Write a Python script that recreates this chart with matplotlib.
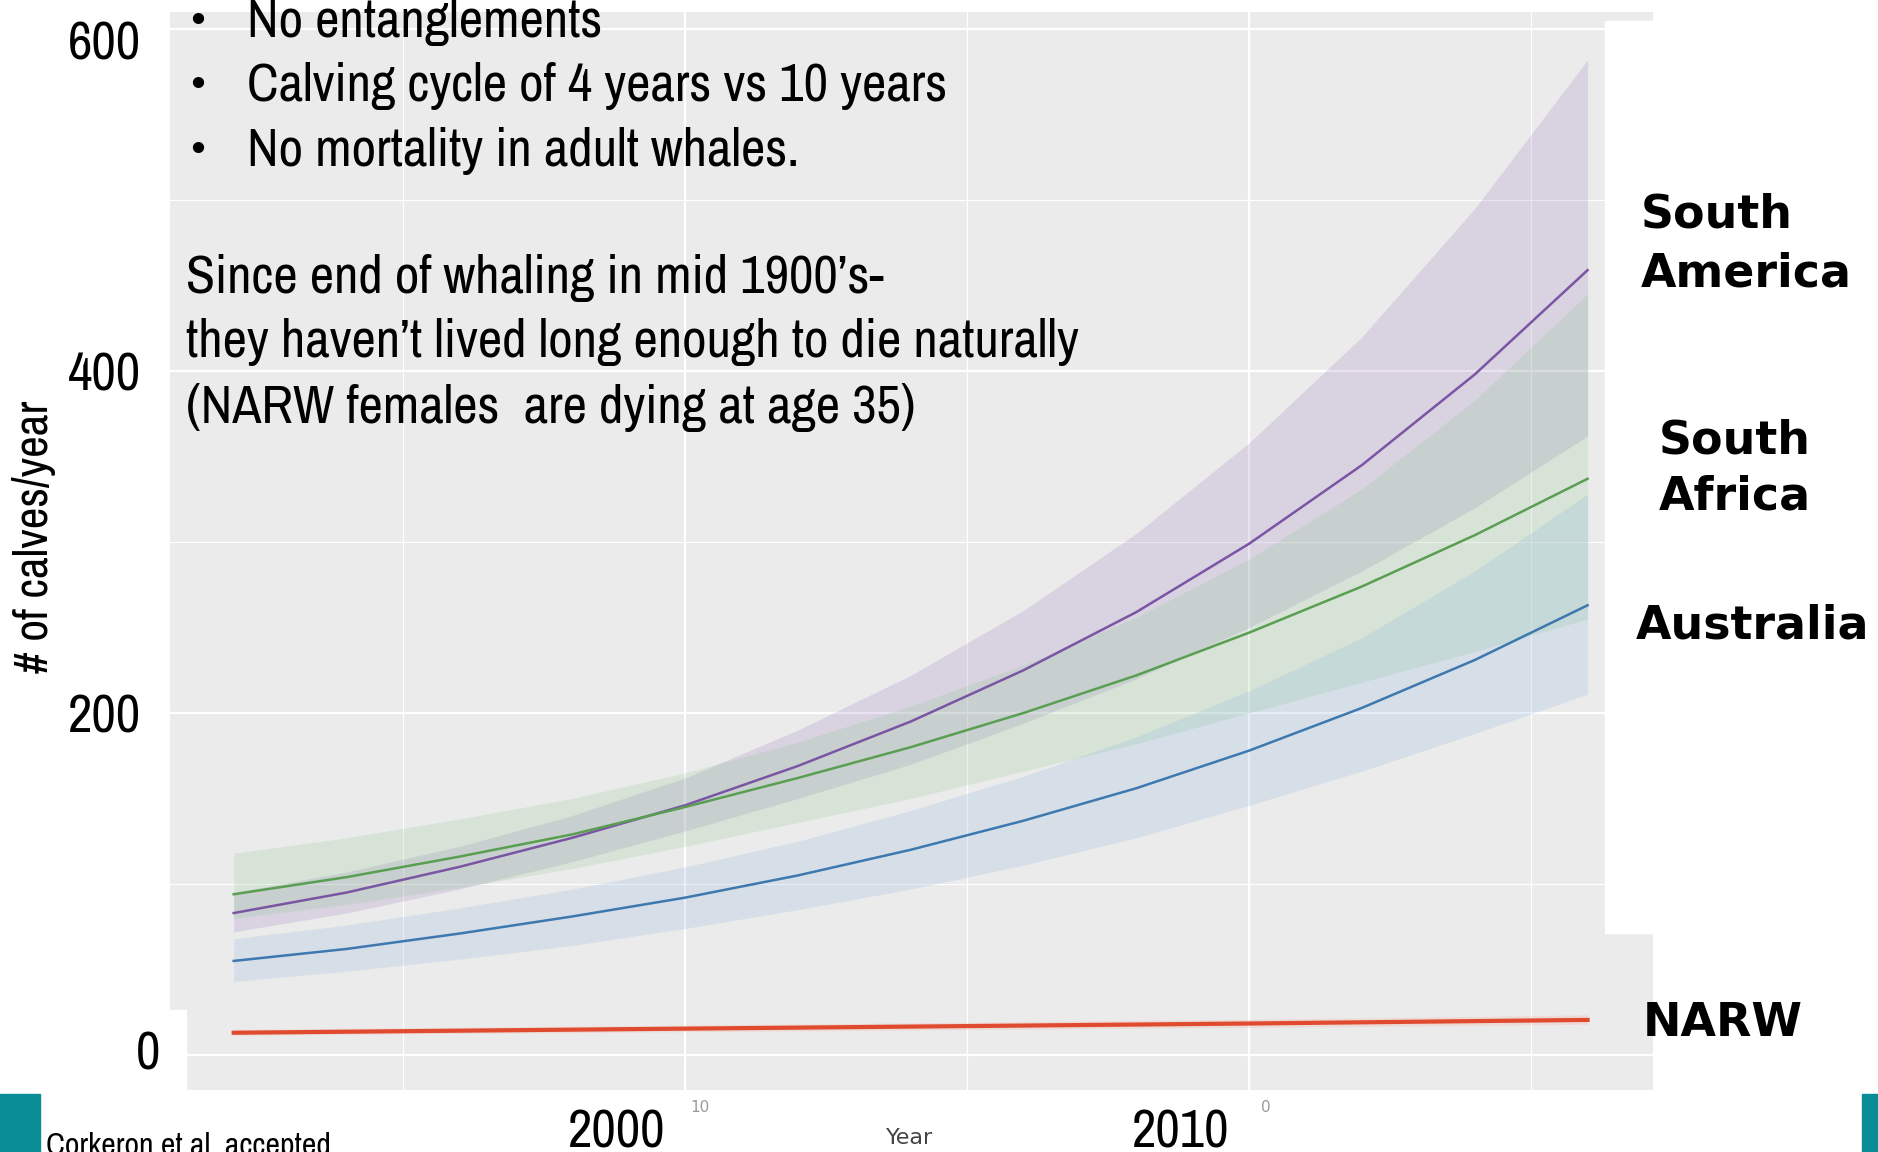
import matplotlib
matplotlib.use('Agg')
import matplotlib.pyplot as plt
from matplotlib import font_manager as fm
from matplotlib.textpath import TextPath
from matplotlib.patches import Rectangle
from matplotlib.transforms import ScaledTranslation

# Years modelled (every 2 years)
years = [1992, 1994, 1996, 1998, 2000, 2002, 2004, 2006, 2008, 2010, 2012, 2014, 2016]

# South America
sam_mid = [83, 95, 110, 127, 146, 169, 195, 225, 259, 299, 345, 398, 459]
sam_hi = [95, 107, 122, 140, 162, 190, 222, 260, 305, 358, 420, 495, 582]
sam_lo = [72, 83, 97, 113, 131, 150, 170, 194, 220, 250, 283, 320, 362]

# South Africa
saf_mid = [94, 104, 116, 129, 145, 162, 180, 200, 222, 247, 274, 304, 337]
saf_hi = [118, 127, 138, 150, 165, 183, 204, 228, 256, 290, 331, 383, 445]
saf_lo = [80, 88, 98, 109, 122, 136, 150, 166, 182, 200, 218, 236, 255]

# Australia
aus_mid = [55, 62, 71, 81, 92, 105, 120, 137, 156, 178, 203, 231, 263]
aus_hi = [68, 76, 86, 97, 110, 125, 143, 163, 186, 213, 244, 283, 328]
aus_lo = [43, 49, 56, 64, 74, 85, 97, 111, 127, 146, 166, 188, 211]

# NARW
narw_mid = [13, 13.6, 14.2, 14.8, 15.4, 16, 16.6, 17.2, 17.8, 18.4, 19.1, 19.8, 20.5]
narw_hi = [15, 15.6, 16.2, 16.8, 17.5, 18.1, 18.8, 19.5, 20.2, 20.9, 21.7, 22.5, 23.5]
narw_lo = [11.5, 12.1, 12.6, 13.1, 13.6, 14.1, 14.6, 15.1, 15.6, 16.1, 16.7, 17.3, 18]

y_ticks = [0, 200, 400, 600]
x_ticks = [2000, 2010]

# pick the narrow/condensed regular font whose width best fits the slide text
probe = 'Calving cycle of 4 years vs 10 years'
target_w = 696 * 72 / 100  # px -> pt at 36pt
best = None
seen = set()
for f in fm.fontManager.ttflist:
    name = (f.fname + ' ' + f.name).lower()
    if f.fname in seen:
        continue
    seen.add(f.fname)
    if not ('narrow' in name or 'condensed' in name or 'condensed' in str(f.stretch)):
        continue
    if f.style != 'normal' or f.weight not in (400, 'normal', 'regular', 'book'):
        continue
    if any(k in name for k in ('mono', 'serif', 'cjk')):
        continue
    try:
        fp = fm.FontProperties(fname=f.fname, size=36)
        w = TextPath((0, 0), probe, prop=fp).get_extents().width
    except Exception:
        continue
    if w <= 0:
        continue
    score = abs(w / target_w - 1)
    if best is None or score < best[0]:
        best = (score, f.fname, w)
    if len(seen) > 400:
        break

if best:
    nfp = fm.FontProperties(fname=best[1])
    scale = min(1.1, max(0.8, target_w / best[2]))
else:
    nfp = fm.FontProperties(family=['Liberation Sans', 'DejaVu Sans'])
    scale = 0.85


def npf(size):
    p = nfp.copy()
    p.set_size(size * scale)
    return p


fig = plt.figure(figsize=(18.78, 11.52), dpi=100)
ax = fig.add_axes([0.0905, 0.0538, 0.7897, 0.9358])
ax.set_facecolor('#EBEBEB')
for s in ax.spines.values():
    s.set_visible(False)

# ggplot-like grid
for y in [100, 300, 500]:
    ax.axhline(y, color='white', lw=0.8, zorder=0)
for y in y_ticks:
    ax.axhline(y, color='white', lw=1.6, zorder=0)
for x in [1995, 2005, 2015]:
    ax.axvline(x, color='white', lw=0.8, zorder=0)
for x in x_ticks:
    ax.axvline(x, color='white', lw=1.6, zorder=0)

series = [
    (sam_lo, sam_hi, sam_mid, '#9B7BC0', '#7A55A3'),
    (saf_lo, saf_hi, saf_mid, '#8FCB8F', '#5A9E52'),
    (aus_lo, aus_hi, aus_mid, '#8DB6E0', '#3D78AE'),
    (narw_lo, narw_hi, narw_mid, '#F3A08F', '#E04A2E'),
]
for lo, hi, mid, fc, lc in series:
    ax.fill_between(years, lo, hi, color=fc, alpha=0.22, lw=0, zorder=1)
for lo, hi, mid, fc, lc in series:
    lw = 3.0 if lc == '#E04A2E' else 1.8
    ax.plot(years, mid, color=lc, lw=lw, zorder=2)

ax.set_xlim(1990.87, 2017.16)
ax.set_ylim(-20.5, 610)

ax.set_yticks(y_ticks)
ax.set_yticklabels([str(v) for v in y_ticks])
ax.set_xticks(x_ticks)
ax.set_xticklabels([str(v) for v in x_ticks])
for lab in ax.get_xticklabels() + ax.get_yticklabels():
    lab.set_fontproperties(npf(36))
ax.tick_params(length=0)
ax.tick_params(axis='x', pad=13)
ax.tick_params(axis='y', pad=21)
for lab in ax.get_xticklabels():
    lab.set_transform(lab.get_transform() + ScaledTranslation(-0.68, 0, fig.dpi_scale_trans))
ylabs = ax.get_yticklabels()
ylabs[0].set_transform(ylabs[0].get_transform() + ScaledTranslation(0.19, 0.05, fig.dpi_scale_trans))
ylabs[3].set_transform(ylabs[3].get_transform() + ScaledTranslation(0, -0.11, fig.dpi_scale_trans))

# white boxes pasted over the chart on the slide
# (bottom-left one sits under the tick labels, above the grid)
ax.add_patch(Rectangle((0, 1 - 1090 / 1152), 186 / 1878, 80 / 1152,
                       transform=fig.transFigure, color='white', zorder=1.2, clip_on=False))
fig.add_artist(Rectangle((1605 / 1878, 1 - 933 / 1152), 60 / 1878, 912 / 1152,
                         transform=fig.transFigure, color='white', zorder=5))

# teal slide decorations
fig.add_artist(Rectangle((0, 0), 40 / 1878, 58 / 1152,
                         transform=fig.transFigure, color='#0A8C97', zorder=6))
fig.add_artist(Rectangle((1862 / 1878, 0), 16 / 1878, 58 / 1152,
                         transform=fig.transFigure, color='#0A8C97', zorder=6))


def ftext(x, y, s, size=None, **kw):
    if size is not None:
        kw['fontproperties'] = npf(size)
    return fig.text(x / 1878, 1 - y / 1152, s, zorder=7, **kw)


ftext(34, 537, '# of calves/year', size=32, rotation=90, ha='center', va='center')

bullets = ['No entanglements', 'Calving cycle of 4 years vs 10 years', 'No mortality in adult whales.']
for i, b in enumerate(bullets):
    ftext(186, 22 + 64.5 * i, '\u2022', fontsize=28, ha='left', va='center', family='DejaVu Sans')
    ftext(247, 22 + 64.5 * i, b, size=36, ha='left', va='center')

para = ['Since end of whaling in mid 1900\u2019s-',
        'they haven\u2019t lived long enough to die naturally',
        '(NARW females  are dying at age 35)']
for i, p in enumerate(para):
    ftext(186, 278 + 64.5 * i, p, size=36, ha='left', va='center')

bold = dict(fontsize=33, fontweight='bold', family='DejaVu Sans', ha='left', va='center')
ftext(1641, 215, 'South', **bold)
ftext(1641, 274, 'America', **bold)
ftext(1659, 441, 'South', **bold)
ftext(1659, 497, 'Africa', **bold)
ftext(1636, 626, 'Australia', **bold)
ftext(1643, 1024, 'NARW', **bold)

# leftovers of the original axis text
ftext(700, 1108, '10', fontsize=11, color='#999999', ha='center', va='center')
ftext(1266, 1108, '0', fontsize=11, color='#999999', ha='center', va='center')
ftext(910, 1138, 'Year', fontsize=16, color='#444444', ha='center', va='center', family='DejaVu Sans')
ftext(46, 1132, 'Corkeron et al. accepted', size=21.5, ha='left', va='top')

fig.savefig('out.png', dpi=100)
